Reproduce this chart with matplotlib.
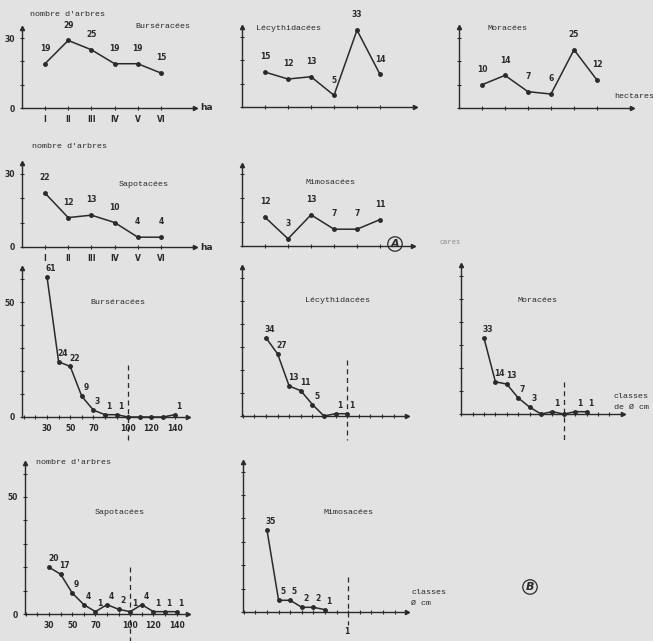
import matplotlib
matplotlib.use("Agg")
from matplotlib import pyplot as plt
import numpy as np

# =============================================================================
# DONNÉES
# =============================================================================

PARCELLES = ["I", "II", "III", "IV", "V", "VI"]
BURSERACEES_HA = [19, 29, 25, 19, 19, 15]
LECYTHIDACEES_HA = [15, 12, 13, 5, 33, 14]
MORACEES_HA = [10, 14, 7, 6, 25, 12]
SAPOTACEES_HA = [22, 12, 13, 10, 4, 4]
MIMOSACEES_HA = [12, 3, 13, 7, 7, 11]

CLASSES_BURS = [30, 40, 50, 60, 70, 80, 90, 100, 110, 120, 130, 140]
BURSERACEES_DIAM = [61, 24, 22, 9, 3, 1, 1, 0, 0, 0, 0, 1]
CLASSES_LECY = [30, 40, 50, 60, 70, 80, 90, 100]
LECYTHIDACEES_DIAM = [34, 27, 13, 11, 5, 0, 1, 1]
CLASSES_MORA = [30, 40, 50, 60, 70, 80, 90, 100, 110, 120]
MORACEES_DIAM = [33, 14, 13, 7, 3, 0, 1, 0, 1, 1]
CLASSES_SAPO = [30, 40, 50, 60, 70, 80, 90, 100, 110, 120, 130, 140]
SAPOTACEES_DIAM = [20, 17, 9, 4, 1, 4, 2, 1, 4, 1, 1, 1]
CLASSES_MIMO = [30, 40, 50, 60, 70, 80]
MIMOSACEES_DIAM = [35, 5, 5, 2, 2, 1]

ETIQUETTES_DIAM = [30, 50, 70, 100, 120, 140]

# =============================================================================
# CONSTANTES
# =============================================================================

W, H = 653, 641
FOND = "#e2e2e2"
ENCRE = "#2a2a2a"
MONO = "Liberation Mono"

fig = plt.figure(figsize=(W / 100, H / 100), dpi=100, facecolor=FOND)


def texte(x, y, s, **kw):
    # position en pixels (origine en haut à gauche)
    opts = dict(fontsize=6, family=MONO, color=ENCRE, ha="left", va="center")
    opts.update(kw)
    fig.text(x / W, 1 - y / H, s, **opts)


def panneau(gauche, base, droite, haut, x_ref, px_ref, ech_x, ech_y):
    ax = fig.add_axes([gauche / W, 1 - base / H, (droite - gauche) / W, (base - haut) / H])
    ax.set_xlim(x_ref - (px_ref - gauche) / ech_x, x_ref + (droite - px_ref) / ech_x)
    ax.set_ylim(0, (base - haut) / ech_y)
    ax.patch.set_alpha(0)
    for cote in ["top", "right"]:
        ax.spines[cote].set_visible(False)
    for cote in ["left", "bottom"]:
        ax.spines[cote].set_color(ENCRE)
        ax.spines[cote].set_linewidth(1.0)
    ax.plot(1, 0, ">", color=ENCRE, ms=3, transform=ax.transAxes, clip_on=False)
    ax.plot(0, 1, "^", color=ENCRE, ms=3, transform=ax.transAxes, clip_on=False)
    ax.tick_params(length=2.5, width=0.8, direction="inout", colors=ENCRE,
                   labelsize=5.5, pad=4)
    for lab in ax.get_xticklabels() + ax.get_yticklabels():
        lab.set_fontweight("bold")
    return ax


def courbe(ax, x, y, dx, dy):
    ax.plot(x, y, "-o", color=ENCRE, lw=1.1, ms=2.5, clip_on=False)
    for xi, yi in zip(x, y):
        if yi > 0:
            ax.annotate(str(yi), (xi, yi), xytext=(dx, dy), textcoords="offset points",
                        ha="center", va="center", fontsize=5.5, fontweight="bold",
                        color=ENCRE)


def axes_ha(ax, valeurs, etiquettes):
    pos = np.arange(1, len(valeurs) + 1)
    courbe(ax, pos, valeurs, 0, 11)
    ax.set_xticks(pos)
    ax.set_yticks([0, 10, 20, 30])
    if etiquettes:
        ax.set_xticklabels(PARCELLES, fontweight="bold")
        ax.set_yticklabels(["0", "", "", "30"], fontweight="bold")
    else:
        ax.set_xticklabels([])
        ax.set_yticklabels([])


def axes_diam(ax, classes, valeurs, etiquettes, tirets):
    courbe(ax, classes, valeurs, 3, 6)
    x0, x1 = ax.get_xlim()
    graduations = [c for c in range(10, 160, 10) if x0 < c < x1]
    ax.set_xticks(graduations)
    ax.set_yticks(range(0, int(ax.get_ylim()[1]) + 1, 10))
    if etiquettes:
        ax.set_xticklabels([str(c) if c in ETIQUETTES_DIAM else "" for c in graduations],
                           fontweight="bold")
        ax.set_yticklabels(["0" if v == 0 else "50" if v == 50 else ""
                            for v in ax.get_yticks()], fontweight="bold")
    else:
        ax.set_xticklabels([])
        ax.set_yticklabels([])
    ax.plot([100, 100], tirets, ls=(0, (4, 3)), color=ENCRE, lw=0.9, clip_on=False)


# -----------------------------------------------------------------------------
# (A) effectifs par hectare
# -----------------------------------------------------------------------------

ax1 = panneau(22, 108, 195, 28, 1, 45, 23.2, 2.33)
axes_ha(ax1, BURSERACEES_HA, True)
ax2 = panneau(242, 107, 415, 27, 1, 265, 23.0, 2.33)
axes_ha(ax2, LECYTHIDACEES_HA, False)
ax3 = panneau(459, 108, 632, 27, 1, 482, 23.0, 2.33)
axes_ha(ax3, MORACEES_HA, False)
ax4 = panneau(22, 247, 195, 163, 1, 45, 23.2, 2.45)
axes_ha(ax4, SAPOTACEES_HA, True)
ax5 = panneau(242, 246, 413, 165, 1, 265, 23.0, 2.4)
axes_ha(ax5, MIMOSACEES_HA, False)

texte(30, 14, "nombre d'arbres")
texte(135, 27, "Burséracées")
texte(256, 28, "Lécythidacées")
texte(488, 28, "Moracées")
texte(614, 97, "hectares")
texte(200, 108, "ha", family="DejaVu Sans", fontweight="bold", fontsize=6.5)
texte(32, 147, "nombre d'arbres")
texte(119, 185, "Sapotacées")
texte(305, 183, "Mimosacées")
texte(200, 247, "ha", family="DejaVu Sans", fontweight="bold", fontsize=6.5)

# -----------------------------------------------------------------------------
# (B) effectifs par classe de diamètre
# -----------------------------------------------------------------------------

ax6 = panneau(22, 417, 188, 268, 30, 47, 1.16, 2.3)
axes_diam(ax6, CLASSES_BURS, BURSERACEES_DIAM, True, [22.6, -10])
ax7 = panneau(242, 416, 407, 267, 30, 266, 1.16, 2.3)
axes_diam(ax7, CLASSES_LECY, LECYTHIDACEES_DIAM, False, [24.3, -10.4])
ax8 = panneau(461, 414, 623, 265, 30, 484, 1.14, 2.3)
axes_diam(ax8, CLASSES_MORA, MORACEES_DIAM, False, [14, -11.3])
ax9 = panneau(25, 614, 188, 463, 30, 49, 1.16, 2.34)
axes_diam(ax9, CLASSES_SAPO, SAPOTACEES_DIAM, True, [20, -11.5])
ax10 = panneau(243, 612, 407, 462, 30, 267, 1.16, 2.34)
axes_diam(ax10, CLASSES_MIMO, MIMOSACEES_DIAM, False, [15, -5.6])

texte(90, 302, "Burséracées")
texte(305, 301, "Lécythidacées")
texte(518, 300, "Moracées")
texte(440, 243, "cares", color="#8a8a8a", fontsize=5)
texte(614, 397, "classes")
texte(614, 407, "de Ø cm")
texte(36, 463, "nombre d'arbres")
texte(95, 513, "Sapotacées")
texte(323, 512, "Mimosacées")
texte(411, 593, "classes")
texte(411, 603, "Ø cm")
texte(347, 632, "1", family="DejaVu Sans", fontweight="bold", fontsize=5.5, ha="center")

for lettre, x, y in [("A", 395, 244), ("B", 530, 587)]:
    texte(x, y, lettre, family="DejaVu Sans", fontstyle="italic", fontweight="bold",
          fontsize=8, ha="center",
          bbox=dict(boxstyle="circle,pad=0.2", fc="none", ec=ENCRE, lw=0.9))

plt.savefig("out.png", dpi=100, facecolor=FOND)
